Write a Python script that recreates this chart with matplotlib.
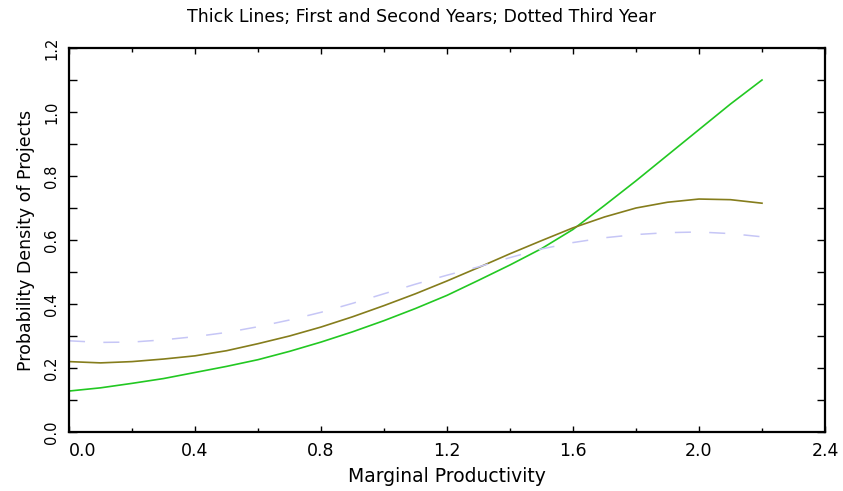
import matplotlib
matplotlib.use("Agg")
import matplotlib.pyplot as plt
import matplotlib.ticker as ticker

# marginal productivity grid and the three density curves
mp = [0.0, 0.1, 0.2, 0.3, 0.4, 0.5, 0.6, 0.7, 0.8, 0.9, 1.0, 1.1,
      1.2, 1.3, 1.4, 1.5, 1.6, 1.7, 1.8, 1.9, 2.0, 2.1, 2.2]
year1 = [0.128, 0.138, 0.152, 0.167, 0.186, 0.205, 0.226, 0.252, 0.281, 0.313, 0.348, 0.386,
         0.427, 0.474, 0.522, 0.573, 0.633, 0.708, 0.785, 0.865, 0.945, 1.025, 1.100]
year2 = [0.220, 0.216, 0.220, 0.228, 0.238, 0.254, 0.276, 0.300, 0.328, 0.360, 0.395, 0.432,
         0.472, 0.514, 0.557, 0.598, 0.638, 0.672, 0.700, 0.718, 0.728, 0.726, 0.715]
year3 = [0.285, 0.280, 0.281, 0.288, 0.298, 0.311, 0.329, 0.350, 0.374, 0.402, 0.432, 0.462,
         0.490, 0.516, 0.545, 0.572, 0.592, 0.607, 0.617, 0.623, 0.625, 0.620, 0.610]

xticks = [0.0, 0.4, 0.8, 1.2, 1.6, 2.0, 2.4]
yticks = [0.0, 0.2, 0.4, 0.6, 0.8, 1.0, 1.2]

plt.rcParams['font.family'] = 'DejaVu Sans'

fig = plt.figure(figsize=(8.43, 4.91), dpi=100)
ax = fig.add_axes([69/843, 1 - 432/491, (825 - 69)/843, (432 - 48)/491])

ax.plot(mp, year1, color='#22c822', lw=1.2)
ax.plot(mp, year2, color='#857d1c', lw=1.2)
ax.plot(mp, year3, color='#c6c6f6', lw=1.1, dashes=(10.5, 12))

ax.set_xlim(0, 2.4)
ax.set_ylim(0, 1.2)

ax.set_xticks(xticks)
ax.set_xticklabels(['%.1f' % v for v in xticks], fontsize=12.5)
ax.set_yticks(yticks)
ax.set_yticklabels(['%.1f' % v for v in yticks], fontsize=10.5, rotation=90, va='center')
ax.xaxis.set_minor_locator(ticker.MultipleLocator(0.2))
ax.yaxis.set_minor_locator(ticker.MultipleLocator(0.1))
ax.get_xticklabels()[0].set_horizontalalignment('left')

ax.tick_params(axis='both', which='both', direction='in', top=True, right=True, width=1.0)
ax.tick_params(axis='x', which='major', length=4, pad=7)
ax.tick_params(axis='x', which='minor', length=3)
ax.tick_params(axis='y', which='both', length=5.5, pad=7)

for sp in ax.spines.values():
    sp.set_linewidth(1.6)

ax.set_xlabel('Marginal Productivity', fontsize=13.5, labelpad=5)
ax.set_ylabel('Probability Density of Projects', fontsize=12.5, labelpad=7)
fig.text(0.5, 1 - 17/491, 'Thick Lines; First and Second Years; Dotted Third Year',
         ha='center', va='center', fontsize=12.5)

plt.savefig('out.png', dpi=100)
